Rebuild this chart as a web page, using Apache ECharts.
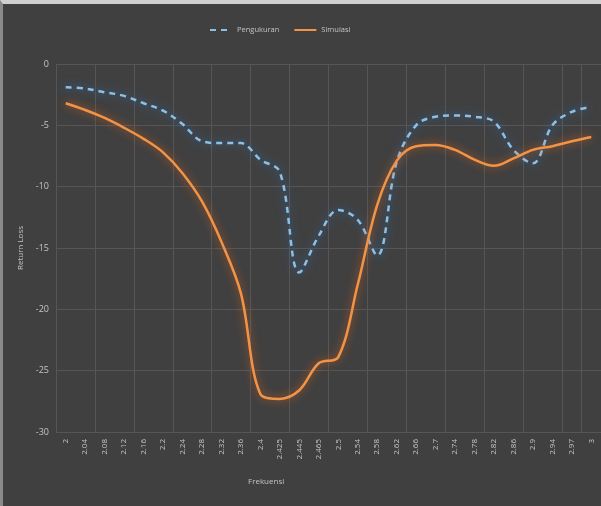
<!DOCTYPE html>
<html>
<head>
<meta charset="utf-8">
<script src="https://cdn.jsdelivr.net/npm/echarts@6/dist/echarts.min.js"></script>
<style>
  html, body { margin: 0; padding: 0; background: #404040; }
  #frame { position: absolute; left: 0; top: 0; width: 601px; height: 506px; box-sizing: border-box;
           border-top: 4px solid #cfcfcf; border-left: 3px solid #8a8a8a; }
  #chart { width: 601px; height: 506px; }
</style>
</head>
<body>
<div id="chart"></div>
<div id="frame"></div>
<script>
// Frequency points (GHz)
const frequencies = ['2', '2.04', '2.08', '2.12', '2.16', '2.2', '2.24', '2.28', '2.32', '2.36',
  '2.4', '2.425', '2.445', '2.465', '2.5', '2.54', '2.58', '2.62', '2.66', '2.7',
  '2.74', '2.78', '2.82', '2.86', '2.9', '2.94', '2.97', '3'];

// Return loss, measured (dB)
const pengukuran = [-1.9, -2.0, -2.3, -2.6, -3.2, -3.8, -4.9, -6.3, -6.45, -6.45,
  -7.8, -8.8, -17.0, -14.0, -11.9, -12.7, -15.6, -8.0, -5.0, -4.3,
  -4.2, -4.3, -4.7, -7.0, -8.1, -5.0, -3.9, -3.5];

// Return loss, simulated (dB)
const simulasi = [-3.2, -3.75, -4.4, -5.2, -6.1, -7.2, -8.9, -11.2, -14.5, -18.7,
  -26.9, -27.3, -26.6, -24.4, -23.9, -18.0, -11.5, -7.9, -6.7, -6.6,
  -7.0, -7.8, -8.3, -7.7, -7.0, -6.7, -6.3, -5.95];

const yTicks = { min: -30, max: 0, step: 5 };

const chart = echarts.init(document.getElementById('chart'));
const textColor = '#c4c4c4';
const gridColor = '#565656';

chart.setOption({
  backgroundColor: '#404040',
  animation: false,
  legend: {
    top: 21,
    left: 204,
    itemWidth: 22,
    itemHeight: 8,
    itemGap: 14,
    itemStyle: { opacity: 0 },
    textStyle: { color: textColor, fontSize: 7.5, fontFamily: 'Open Sans' },
    data: ['Pengukuran', 'Simulasi']
  },
  grid: { left: 56, top: 64, width: 547, bottom: 74, containLabel: false },
  graphic: [{
    type: 'text',
    left: 248,
    top: 478,
    style: { text: 'Frekuensi', fill: textColor, fontSize: 8, fontFamily: 'Open Sans' }
  }],
  xAxis: {
    type: 'category',
    data: frequencies,
    boundaryGap: true,
    axisLine: { show: false },
    axisTick: { show: false },
    axisLabel: { interval: 0, rotate: 90, color: textColor, fontSize: 8, margin: 7, fontFamily: 'Open Sans' },
    splitLine: { show: true, interval: 1, lineStyle: { color: gridColor, width: 1 } }
  },
  yAxis: {
    type: 'value',
    min: yTicks.min,
    max: yTicks.max,
    interval: yTicks.step,
    name: 'Return Loss',
    nameLocation: 'middle',
    nameGap: 22,
    nameTextStyle: { color: textColor, fontSize: 8, fontFamily: 'Open Sans' },
    axisLine: { show: false },
    axisTick: { show: false },
    axisLabel: { color: textColor, fontSize: 9, margin: 7, fontFamily: 'Open Sans' },
    splitLine: { lineStyle: { color: gridColor, width: 1 } }
  },
  series: [
    {
      name: 'Pengukuran',
      type: 'line',
      data: pengukuran,
      smooth: 0.35,
      symbol: 'none',
      itemStyle: { color: '#7fb2dc' },
      lineStyle: {
        color: '#8ec0e6', width: 2.5, type: [6, 5],
        shadowColor: 'rgba(40,120,200,0.95)', shadowBlur: 10
      },
      z: 3
    },
    {
      name: 'Simulasi',
      type: 'line',
      data: simulasi,
      smooth: 0.35,
      symbol: 'none',
      itemStyle: { color: '#ee8a3c' },
      lineStyle: {
        color: '#f29448', width: 2.5,
        shadowColor: 'rgba(230,100,20,0.8)', shadowBlur: 8
      },
      z: 4
    }
  ]
});
</script>
</body>
</html>
